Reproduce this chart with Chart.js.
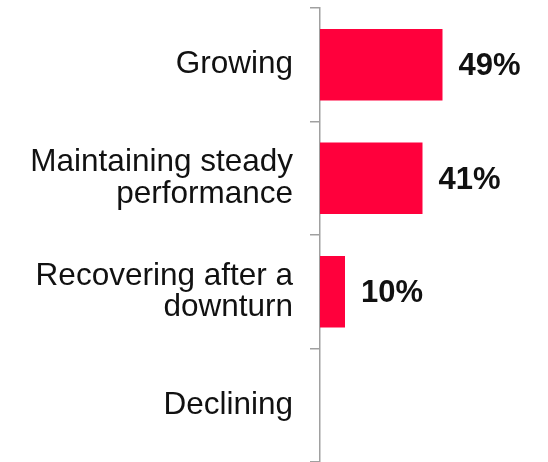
<!DOCTYPE html>
<html>
<head>
<meta charset="utf-8">
<script src="https://cdn.jsdelivr.net/npm/chart.js@4.4.0/dist/chart.umd.min.js"></script>
<style>
  html, body { margin: 0; padding: 0; background: #fff; }
  #wrap { width: 548px; height: 462px; }
</style>
</head>
<body>
<div id="wrap"><canvas id="grafico" width="548" height="462"></canvas></div>
<script>
// categorias e valores (%)
const categorias = [
    'Growing',
    ['Maintaining steady', 'performance'],
    ['Recovering after a', 'downturn'],
    'Declining'
];
const valores = [49, 41, 10, 0];

const corBarra = '#FF003C';
const corEixo = '#a0a0a0';
const fonte = '"Liberation Sans", Arial, sans-serif';

// escreve o percentual à direita de cada barra (zero fica sem rótulo)
const rotuloValor = {
    id: 'rotuloValor',
    afterDatasetsDraw(chart) {
        const ctx = chart.ctx;
        const meta = chart.getDatasetMeta(0);
        ctx.save();
        ctx.font = 'bold 31px ' + fonte;
        ctx.fillStyle = '#111';
        ctx.textAlign = 'left';
        ctx.textBaseline = 'middle';
        meta.data.forEach((bar, i) => {
            if (!valores[i]) return;
            ctx.fillText(valores[i] + '%', bar.x + 16, bar.y + 2);
        });
        ctx.restore();
    }
};

new Chart(document.getElementById('grafico').getContext('2d'), {
    type: 'bar',
    data: {
        labels: categorias,
        datasets: [{
            data: valores,
            backgroundColor: corBarra,
            borderWidth: 0,
            barPercentage: 0.63,
            categoryPercentage: 1
        }]
    },
    options: {
        indexAxis: 'y',
        responsive: false,
        animation: false,
        layout: { padding: { top: 8, right: 3, bottom: 0, left: 0 } },
        plugins: {
            legend: { display: false },
            tooltip: { enabled: false }
        },
        scales: {
            x: {
                display: false,
                min: 0,
                max: 90
            },
            y: {
                // largura fixa e sem folga extra em cima/embaixo
                afterFit(scale) {
                    scale.width = 320;
                    scale.paddingTop = 0;
                    scale.paddingBottom = 0;
                },
                border: { display: true, color: corEixo, width: 1.5 },
                grid: {
                    offset: true,
                    drawOnChartArea: false,
                    drawTicks: true,
                    tickLength: 10,
                    color: corEixo,
                    lineWidth: 1.5
                },
                ticks: {
                    padding: 17,
                    color: '#111',
                    font: { family: fonte, size: 31.5, lineHeight: 1.0 }
                }
            }
        }
    },
    plugins: [rotuloValor]
});
</script>
</body>
</html>
